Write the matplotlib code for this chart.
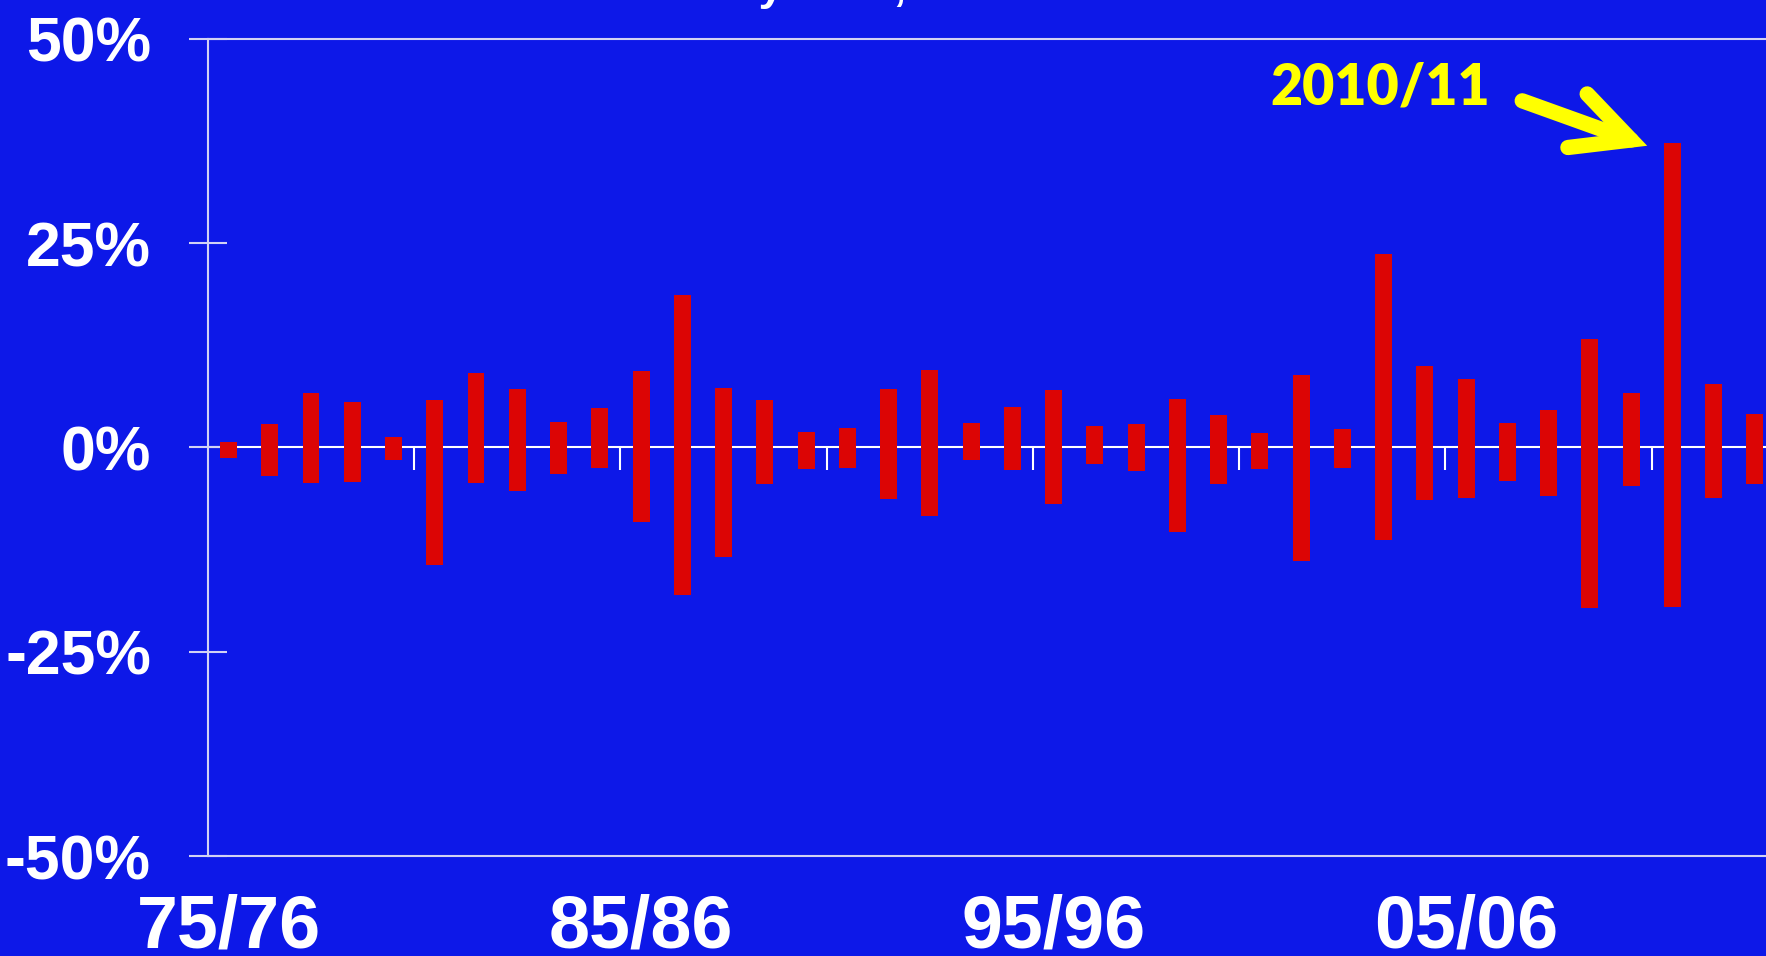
import numpy as np
import matplotlib
matplotlib.use("Agg")
import matplotlib.pyplot as plt
from matplotlib.patches import FancyArrowPatch

# Crop years, 1975/76 through 2012/13
seasons = ["75/76", "76/77", "77/78", "78/79", "79/80", "80/81", "81/82", "82/83",
           "83/84", "84/85", "85/86", "86/87", "87/88", "88/89", "89/90", "90/91",
           "91/92", "92/93", "93/94", "94/95", "95/96", "96/97", "97/98", "98/99",
           "99/00", "00/01", "01/02", "02/03", "03/04", "04/05", "05/06", "06/07",
           "07/08", "08/09", "09/10", "10/11", "11/12", "12/13"]

# Seasonal high and low relative to the starting price (%)
season_high = [0.65, 2.85, 6.64, 5.54, 1.26, 5.79, 9.08, 7.14, 3.10, 4.81,
               9.33, 18.6, 7.25, 5.83, 1.87, 2.37, 7.10, 9.50, 2.94, 4.90,
               7.00, 2.63, 2.87, 5.90, 3.90, 1.73, 8.80, 2.20, 23.6, 10.0,
               8.37, 3.00, 4.55, 13.2, 6.60, 37.2, 7.70, 4.06]
season_low = [-1.27, -3.47, -4.37, -4.21, -1.51, -14.37, -4.37, -5.35, -3.23, -2.49,
              -9.10, -18.04, -13.4, -4.45, -2.69, -2.53, -6.35, -8.40, -1.55, -2.78,
              -6.94, -2.04, -2.94, -10.3, -4.45, -2.69, -13.87, -2.55, -11.3, -6.50,
              -6.15, -4.08, -5.97, -19.6, -4.70, -19.5, -6.15, -4.44]

y_ticks = [-50, -25, 0, 25, 50]
label_every = 10
highlight = "10/11"
highlight_label = "2010/11"

BG = "#0d18e8"
BAR = "#dc0505"
AXIS = "#d2d2f4"
FONT = "Liberation Sans"

W, H = 1766, 956
fig = plt.figure(figsize=(W / 100, H / 100), dpi=100, facecolor=BG)
left = 207.9 / W
bottom = 100 / H
top = 917.3 / H
ax = fig.add_axes([left, bottom, 1.0 - left, top - bottom])
ax.set_facecolor(BG)

x = np.arange(len(seasons))
high = np.array(season_high)
low = np.array(season_low)

ax.set_xlim(-0.5, 37.27)
ax.set_ylim(-50, 50)

# zero line with boundary ticks every five seasons
ax.axhline(0, color="white", lw=1.5, zorder=1)
ax.vlines(np.arange(4.5, len(seasons), 5), -2.8, 0, color="white", lw=1.5, zorder=1)

# floating range bars: low to high for each season
ax.bar(x, high - low, bottom=low, width=0.41, color=BAR, zorder=3)

for side in ["left", "top", "bottom"]:
    ax.spines[side].set_color(AXIS)
    ax.spines[side].set_linewidth(1.5)
ax.spines["right"].set_visible(False)

ax.set_yticks(y_ticks)
ax.set_yticklabels([f"{v}%" for v in y_ticks])
ax.tick_params(axis="y", direction="inout", length=27.4, width=1.5, color=AXIS,
               pad=27.3, labelcolor="white")
for lbl in ax.get_yticklabels():
    lbl.set_fontsize(45)
    lbl.set_fontweight("bold")
    lbl.set_family(FONT)

ax.set_xticks(x[::label_every])
ax.set_xticklabels(seasons[::label_every])
ax.tick_params(axis="x", length=0, pad=27, labelcolor="white")
for lbl in ax.get_xticklabels():
    lbl.set_fontsize(53)
    lbl.set_fontweight("bold")
    lbl.set_family(FONT)

# callout for the record season
i = seasons.index(highlight)
ax.text(25.25, 42.0, highlight_label,
        color="#ffff00", fontsize=40, fontweight="heavy", family="Lato",
        ha="left", va="baseline", zorder=5)
arrow = FancyArrowPatch(posA=(31.36, 42.4), posB=(i - 0.61, high[i] - 0.3),
                        arrowstyle="->,head_length=41,head_width=20.5",
                        mutation_scale=1, color="#ffff00", lw=11,
                        shrinkA=0, shrinkB=0, capstyle="round", joinstyle="miter",
                        zorder=5)
ax.add_patch(arrow)

fig.text(600 / W, 1.0, "Volatility Data, 1975\u20132013", color="white",
         fontsize=32.4, fontweight="bold", family=FONT, ha="left", va="baseline")

fig.savefig("out.png", dpi=100, facecolor=BG)
